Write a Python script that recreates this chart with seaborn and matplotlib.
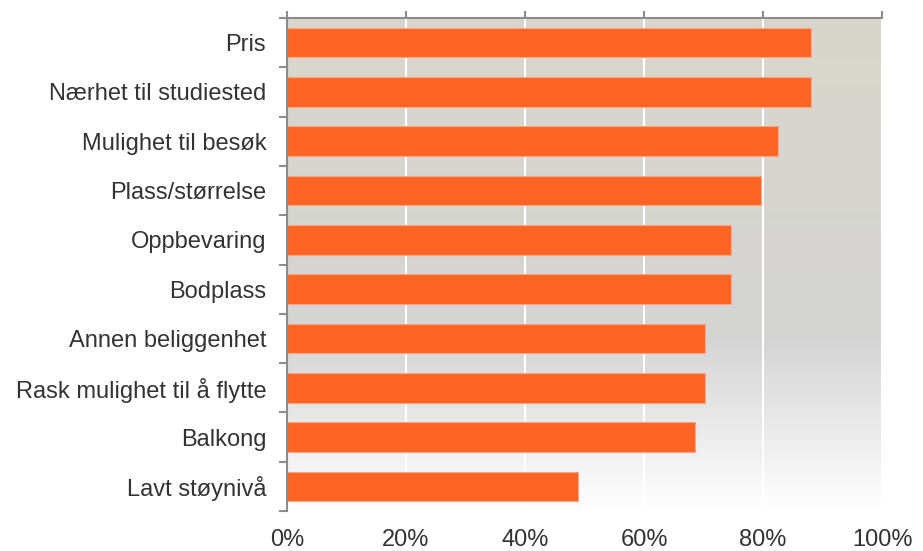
import matplotlib
matplotlib.use("Agg")
import matplotlib.pyplot as plt
import seaborn as sns
import numpy as np
import pandas as pd
from matplotlib.colors import LinearSegmentedColormap
from matplotlib.ticker import FixedLocator, PercentFormatter

categories = ["Pris", "Nærhet til studiested", "Mulighet til besøk", "Plass/størrelse",
              "Oppbevaring", "Bodplass", "Annen beliggenhet",
              "Rask mulighet til å flytte", "Balkong", "Lavt støynivå"]
values = [0.88, 0.88, 0.825, 0.797, 0.746, 0.746, 0.703, 0.703, 0.686, 0.489]
xticks = [0, 0.2, 0.4, 0.6, 0.8, 1.0]

df = pd.DataFrame({"kategori": categories, "andel": values})

sns.set_theme(style="white")
plt.rcParams['font.family'] = ['Liberation Sans', 'DejaVu Sans']

fig = plt.figure(figsize=(9.23, 5.51), dpi=100)
ax = fig.add_axes([0.311, 0.0726, 0.6446, 0.8947])

# gradient background
cmap = LinearSegmentedColormap.from_list(
    "bg", [(0.0, "#D9D7CC"), (0.65, "#D4D4D4"), (1.0, "#FFFFFF")])
grad = np.linspace(0, 1, 256).reshape(-1, 1)
ax.imshow(grad, cmap=cmap, aspect="auto", extent=[0, 1, 9.5, -0.5],
          zorder=0, interpolation="bicubic")

sns.barplot(data=df, x="andel", y="kategori", orient="h", ax=ax,
            color="#FE6423", saturation=1, width=0.6,
            edgecolor="#F7A584", linewidth=0.8, zorder=2)

ax.set_xlim(0, 1)
ax.set_ylim(9.5, -0.5)
ax.set_xlabel("")
ax.set_ylabel("")

ax.xaxis.set_major_locator(FixedLocator(xticks))
ax.xaxis.set_major_formatter(PercentFormatter(1.0, decimals=0))
ax.grid(axis="x", color="white", linewidth=1.5, zorder=1)
ax.grid(axis="y", visible=False)

for s in ["right", "bottom"]:
    ax.spines[s].set_visible(False)
for s in ["top", "left"]:
    ax.spines[s].set_color("#8C8C8C")
    ax.spines[s].set_linewidth(1.5)

ax.tick_params(axis="x", top=True, bottom=False, labeltop=False, labelbottom=True,
               direction="out", length=5, width=1.5, color="#8C8C8C",
               labelsize=17, labelcolor="#333333", pad=8)

ax.yaxis.set_minor_locator(FixedLocator(np.arange(-0.5, 10, 1.0)))
ax.tick_params(axis="y", which="minor", left=True, length=6, width=1.5,
               color="#8C8C8C", direction="out")
ax.tick_params(axis="y", which="major", left=True, length=0, pad=15,
               labelsize=17, labelcolor="#333333")

fig.savefig("out.png", dpi=100)
